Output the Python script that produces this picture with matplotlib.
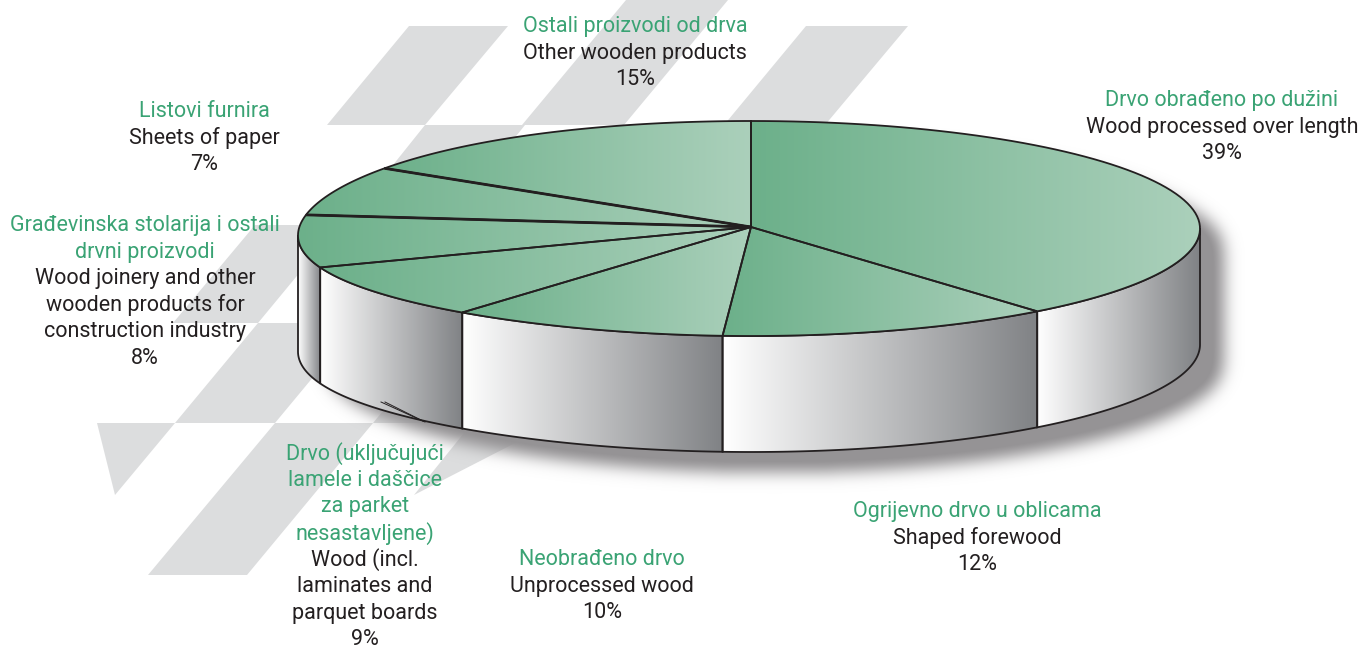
import numpy as np
import matplotlib
matplotlib.use("Agg")
import matplotlib.pyplot as plt
from matplotlib.patches import Polygon

# share of each section, clockwise from 12 o'clock
names_hr = ["Drvo obrađeno po dužini", "Ogrijevno drvo u oblicama", "Neobrađeno drvo",
            "Drvo (uključujući\nlamele i daščice\nza parket\nnesastavljene)",
            "Građevinska stolarija i ostali\ndrvni proizvodi", "Listovi furnira",
            "Ostali proizvodi od drva"]
names_en = ["Wood processed over length", "Shaped forewood", "Unprocessed wood",
            "Wood (incl.\nlaminates and\nparquet boards",
            "Wood joinery and other\nwooden products for\nconstruction industry",
            "Sheets of paper", "Other wooden products"]
shares = [39, 12, 10, 9, 8, 7, 15]

# where the label blocks sit (centre x, y of first line)
label_x = [1222, 977, 602, 365, 145, 204, 635]
label_y = [100.5, 511.5, 559.5, 453.5, 225.5, 111.5, 26.5]

# grey background shapes
decor = [
    [(409, 26), (508, 26), (425, 125), (327, 125)],
    [(626, 0), (728, 0), (624, 125), (522, 125)],
    [(425, 125), (525, 125), (445, 225), (345, 225)],
    [(806, 26), (908, 26), (825, 125), (724, 125)],
    [(255, 225), (339, 225), (258, 323), (173, 323)],
    [(258, 323), (358, 323), (275, 423), (175, 423)],
    [(97, 423), (175, 423), (115, 495)],
    [(275, 423), (373, 423), (247, 575), (148, 575)],
    [(456, 323), (558, 323), (473, 423), (373, 423)],
    [(472, 423), (554, 423), (414, 495)],
]

cx, cy, ry, depth = 751, 228.5, 107.5, 116
rx_right, rx_left = 449, 453
GREY = "#dcddde"
INK = "#231f20"
GREEN = "#3aa374"
W, H = 1362, 649


def edge(a0, a1, n=80):
    t = np.radians(np.linspace(a0, a1, n))
    s = np.sin(t)
    x = cx + np.where(s > 0, rx_right, rx_left) * s
    # the left side of the drum hangs a little lower in the original
    y = cy - ry * np.cos(t) + 7 * np.clip(-s, 0, 1) ** 4
    return x, y


def gradient(ax, poly, c0, c1, z):
    # horizontal colour ramp over the bbox of the polygon, clipped to it
    c0 = np.array(matplotlib.colors.to_rgb(c0))
    c1 = np.array(matplotlib.colors.to_rgb(c1))
    t = np.linspace(0, 1, 256)[None, :, None]
    img = c0 + (c1 - c0) * t
    x0, y0 = poly.min(axis=0)
    x1, y1 = poly.max(axis=0)
    im = ax.imshow(img, extent=(x0, x1, y1, y0), aspect="auto", zorder=z, interpolation="bilinear")
    patch = Polygon(poly, closed=True, transform=ax.transData, fc="none", ec="none")
    ax.add_patch(patch)
    im.set_clip_path(patch)


fig = plt.figure(figsize=(W / 100, H / 100), dpi=100)
ax = fig.add_axes([0, 0, 1, 1])
for d in decor:
    ax.add_patch(Polygon(d, closed=True, fc=GREY, ec="none", zorder=1))

# soft shadow: the drum moved down and right, then blurred
dx, dy = 23, 20
yy, xx = np.mgrid[0:H, 0:W]
u = (xx - cx - dx) / rx_right
inside = u ** 2 + ((yy - cy - depth - dy) / ry) ** 2 <= 1
inside |= u ** 2 + ((yy - cy - dy) / ry) ** 2 <= 1
inside |= (np.abs(u) <= 1) & (yy >= cy + dy) & (yy <= cy + depth + dy)
mask = inside.astype(float)
kernel = np.exp(-0.5 * (np.arange(-30, 31) / 8.0) ** 2)
kernel /= kernel.sum()
mask = np.apply_along_axis(lambda r: np.convolve(r, kernel, mode="same"), 0, mask)
mask = np.apply_along_axis(lambda r: np.convolve(r, kernel, mode="same"), 1, mask)
rgba = np.zeros((H, W, 4))
rgba[..., :3] = matplotlib.colors.to_rgb("#959395")
rgba[..., 3] = np.clip(mask * 1.1, 0, 1)
ax.imshow(rgba, extent=(0, W, H, 0), aspect="auto", zorder=2)

# sections
bounds = np.concatenate([[0], np.cumsum(shares)]) * 3.6
for i in range(len(shares)):
    a0, a1 = bounds[i], bounds[i + 1]
    # only the front of the wall shows, 90 to 270 degrees plus the bit past it
    w0, w1 = max(a0, 90), min(a1, 270)
    if w1 > w0:
        ex, ey = edge(w0, w1)
        wall = np.vstack([np.column_stack([ex, ey]), np.column_stack([ex[::-1], ey[::-1] + depth])])
        gradient(ax, wall, "#ffffff", "#808285", 3)
        ax.add_patch(Polygon(wall, closed=True, fc="none", ec=INK, lw=1.3, zorder=4))
    ex, ey = edge(a0, a1)
    top = np.vstack([[[cx, cy - 1.5]], np.column_stack([ex, ey])])
    gradient(ax, top, "#6cb08a", "#abd0bb", 5)
    ax.add_patch(Polygon(top, closed=True, fc="none", ec=INK, lw=1.3, zorder=6))

# two of the spokes are heavier
for a in bounds[5:7]:
    ex, ey = edge(a, a, 1)
    ax.plot([cx, ex[0]], [cy - 1.5, ey[0]], color=INK, lw=2.0, zorder=7, solid_capstyle="butt")

# the stray tick on the wall at the lower left
ax.plot([381, 425], [402, 422], color=INK, lw=0.7, zorder=7)
ax.plot([385, 423], [402, 421], color=INK, lw=0.7, zorder=7)

# labels
font = ["Roboto", "DejaVu Sans"]
LINE = 26.6
for hr, en, s, x, y in zip(names_hr, names_en, shares, label_x, label_y):
    rows = [(r, GREEN) for r in hr.split("\n")] + [(r, INK) for r in en.split("\n")] + [(f"{s}%", INK)]
    for j, (txt, col) in enumerate(rows):
        ax.text(x, y + j * LINE, txt, color=col, ha="center", va="center", fontsize=15.5,
                family=font, zorder=8)

ax.set_xlim(0, W)
ax.set_ylim(H, 0)
ax.axis("off")
fig.savefig("out.png", dpi=100)
